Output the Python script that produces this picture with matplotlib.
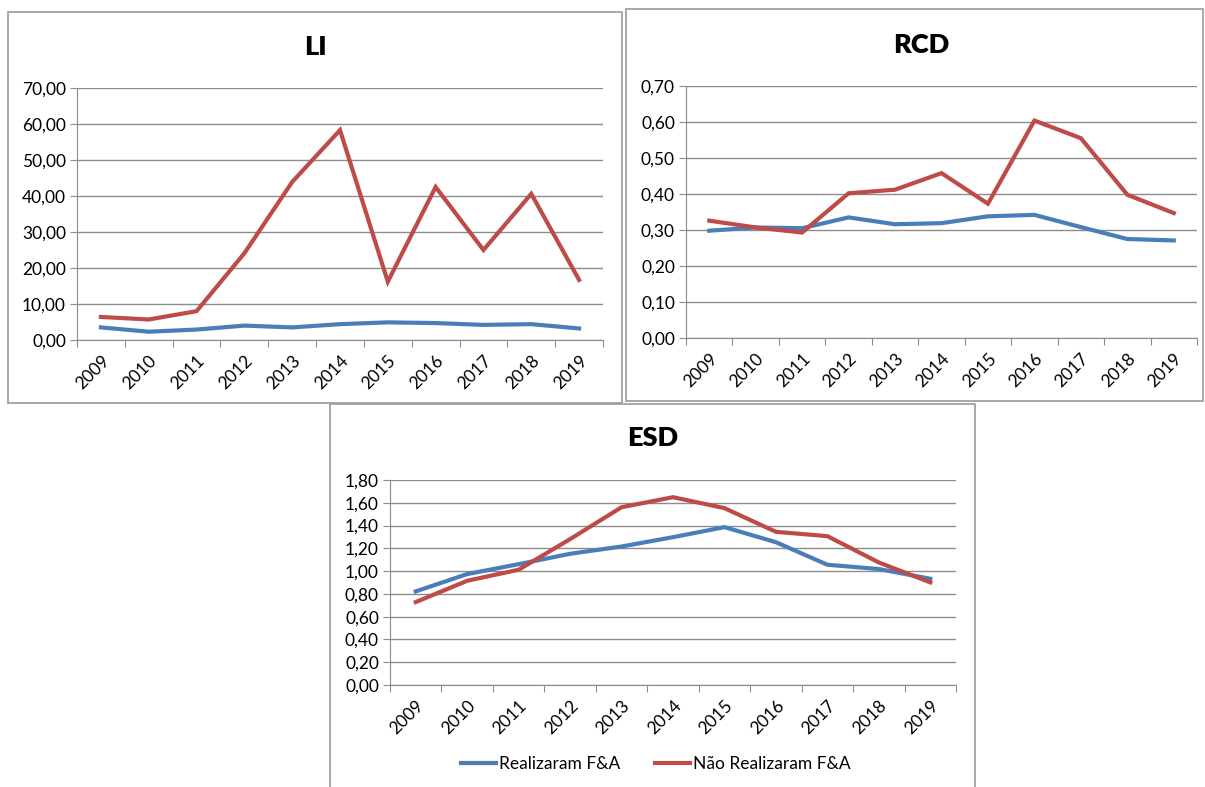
import numpy as np
import matplotlib
matplotlib.use("Agg")
import matplotlib.pyplot as plt
from matplotlib.patches import Rectangle
from matplotlib.lines import Line2D

plt.rcParams['font.family'] = ['Lato', 'DejaVu Sans']

years = ['2009', '2010', '2011', '2012', '2013', '2014', '2015', '2016', '2017', '2018', '2019']

li_realizaram = [3.5, 2.3, 2.9, 4.0, 3.5, 4.4, 4.9, 4.7, 4.2, 4.4, 3.2]
li_nao = [6.4, 5.7, 8.0, 24.1, 43.9, 58.3, 16.2, 42.5, 25.0, 40.6, 16.7]

rcd_realizaram = [0.298, 0.307, 0.305, 0.335, 0.316, 0.319, 0.338, 0.342, 0.308, 0.275, 0.271]
rcd_nao = [0.326, 0.307, 0.293, 0.402, 0.412, 0.458, 0.373, 0.604, 0.555, 0.398, 0.347]

esd_realizaram = [0.822, 0.974, 1.061, 1.152, 1.216, 1.298, 1.386, 1.254, 1.056, 1.018, 0.933]
esd_nao = [0.728, 0.915, 1.012, 1.281, 1.561, 1.649, 1.553, 1.345, 1.307, 1.076, 0.901]

labels = ['Realizaram F&A', 'Não Realizaram F&A']
BLUE = '#4A7EBB'
RED = '#BE4B48'
GRID = '#8C8C8C'
W, H = 1205, 787
FS = 12.5

fig = plt.figure(figsize=(W / 100, H / 100), dpi=100)
fig.patch.set_facecolor('white')


def box(x0, y0, x1, y1):
    # panel border in pixel coords
    fig.add_artist(Rectangle((x0 / W, 1 - y1 / H), (x1 - x0) / W, (y1 - y0) / H,
                             transform=fig.transFigure, fill=False,
                             edgecolor='#9A9A9A', linewidth=1.2))


def panel(l, r, t, b, title, tx, ty, s1, s2, ymax, step):
    ax = fig.add_axes([l / W, 1 - b / H, (r - l) / W, (b - t) / H])
    x = np.arange(len(years)) + 0.5
    ax.plot(x, s1, color=BLUE, lw=3.0, solid_joinstyle='miter')
    ax.plot(x, s2, color=RED, lw=3.0, solid_joinstyle='miter')
    ax.set_xlim(0, len(years))
    ax.set_ylim(0, ymax)
    yt = np.arange(0, ymax + step / 2, step)
    ax.set_yticks(yt)
    ax.set_yticklabels(['{:.2f}'.format(v).replace('.', ',') for v in yt], fontsize=FS)
    ax.set_xticks(np.arange(len(years) + 1))
    ax.set_xticklabels([])
    ax.set_xticks(x, minor=True)
    ax.set_xticklabels(years, minor=True, rotation=45, ha='right',
                       rotation_mode='anchor', fontsize=FS)
    ax.tick_params(axis='x', which='minor', length=0, pad=9)
    ax.tick_params(axis='x', which='major', length=5, color=GRID)
    ax.tick_params(axis='y', length=5, color=GRID, pad=3)
    ax.grid(axis='y', color=GRID, lw=1.0)
    ax.set_axisbelow(True)
    for sp in ['top', 'right']:
        ax.spines[sp].set_visible(False)
    for sp in ['left', 'bottom']:
        ax.spines[sp].set_color(GRID)
    fig.text(tx / W, 1 - ty / H, title, ha='center', va='center',
             fontsize=19.5, fontweight='heavy')
    return ax


box(8, 12, 622, 403)
box(626, 9, 1203, 401)
box(330, 404, 975, 800)

panel(77, 603, 88, 340, 'LI', 315, 47, li_realizaram, li_nao, 70, 10)
panel(686, 1197, 86, 338, 'RCD', 921, 45, rcd_realizaram, rcd_nao, 0.7, 0.1)
panel(390, 956, 480, 685, 'ESD', 653, 438, esd_realizaram, esd_nao, 1.8, 0.2)

handles = [Line2D([], [], color=BLUE, lw=3.0), Line2D([], [], color=RED, lw=3.0)]
fig.legend(handles, labels, loc='center', bbox_to_anchor=(656 / W, 1 - 764 / H),
           ncol=2, frameon=False, fontsize=FS, handlelength=2.0,
           handletextpad=0.2, columnspacing=2.0)

fig.savefig('out.png', dpi=100, facecolor='white')
